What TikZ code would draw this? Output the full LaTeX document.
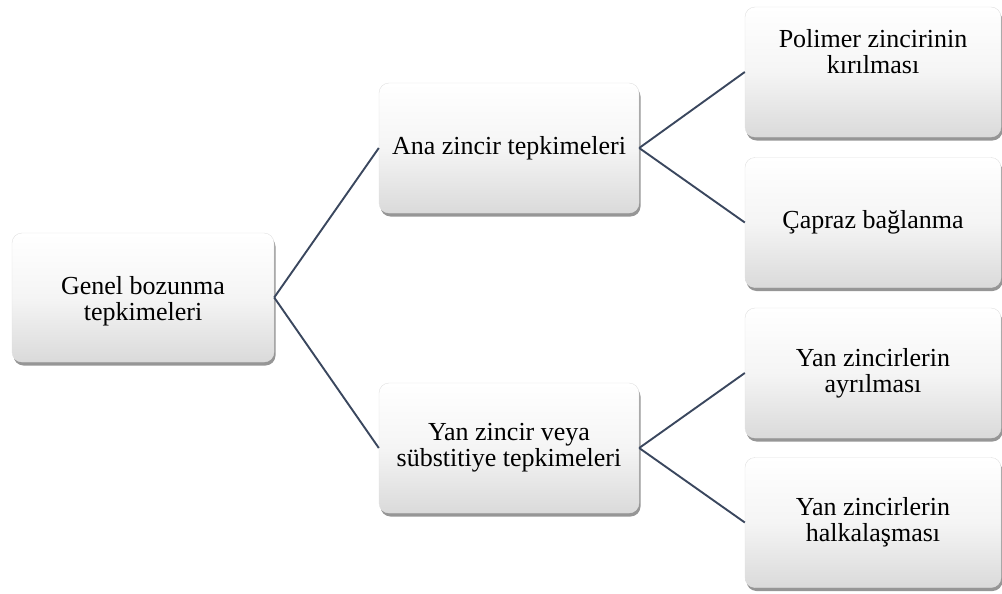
\documentclass[tikz,border=0pt]{standalone}
\usepackage{fontspec}
\setmainfont{Liberation Serif}
\usetikzlibrary{shadows}
\definecolor{linec}{HTML}{3A475E}
\definecolor{shadec}{HTML}{DADADA}
\tikzset{
  box/.style={draw=black!12, line width=0.4pt, rounded corners=10pt,
    top color=white, bottom color=shadec, middle color=white!96!black,
    drop shadow={shadow xshift=1.5pt, shadow yshift=-3.5pt, fill=black!75, opacity=0.55},
    inner sep=0pt, align=center, font=\fontsize{26}{26}\selectfont},
  wbox/.style={box, minimum width=262pt, minimum height=129pt},
  mbox/.style={box, minimum width=260pt, minimum height=130pt},
  rbox/.style={box, minimum width=256pt, minimum height=130pt},
  txt/.style={inner sep=0pt, align=center, font=\fontsize{26}{26}\selectfont},
  conn/.style={draw=linec, line width=1.9pt}
}
\begin{document}
\begin{tikzpicture}[x=1pt,y=-1pt]
\useasboundingbox (0,0) rectangle (1002,594);
\node[wbox] (g) at (143,297.5) {};
\node[txt] (gt) at (143,301) {Genel bozunma\\tepkimeleri};
\node[mbox] (a) at (509,148) {Ana zincir tepkimeleri};
\node[mbox] (y) at (509,448) {Yan zincir veya\\sübstitiye tepkimeleri};
\node[rbox] (p) at (873,72) {};
\node[txt, anchor=north] (pt) at (873,29) {Polimer zincirinin\\kırılması};
\node[rbox] (c) at (873,222.5) {Çapraz bağlanma};
\node[rbox] (r) at (873,373) {Yan zincirlerin\\ayrılması};
\node[rbox] (h) at (873,522.5) {Yan zincirlerin\\halkalaşması};
\draw[conn] (g.east) -- (a.west);
\draw[conn] (g.east) -- (y.west);
\draw[conn] (a.east) -- (p.west);
\draw[conn] (a.east) -- (c.west);
\draw[conn] (y.east) -- (r.west);
\draw[conn] (y.east) -- (h.west);
\end{tikzpicture}
\end{document}
